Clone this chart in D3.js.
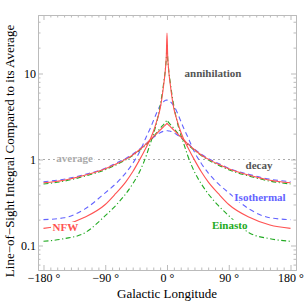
<!DOCTYPE html>
<html>
<head>
<meta charset="utf-8">
<script src="https://cdn.jsdelivr.net/npm/d3@7"></script>
<style>
  body { margin: 0; background: #fff; }
  svg { display: block; font-family: "Liberation Serif", "DejaVu Serif", serif; }
  .frame path.domain { stroke: #bbb; }
  .frame line { stroke: #bbb; }
  .frame text { fill: #000; font-size: 12px; }
</style>
</head>
<body>
<script>
var lon = [-180,-150,-120,-90,-75,-60,-50,-40,-30,-25,-20,-15,-10,-5,-2,-1,0,1,2,5,10,15,20,25,30,40,50,60,75,90,120,150,180];

// decay: line-of-sight integral / average
var decayNFW = [0.537,0.575,0.655,0.78,0.88,1.01,1.13,1.3,1.53,1.68,1.84,2.0,2.2,2.4,2.53,2.58,2.63,2.58,2.53,2.4,2.2,2.0,1.84,1.68,1.53,1.3,1.13,1.01,0.88,0.78,0.655,0.575,0.537];
var decayEin = [0.519,0.56,0.64,0.76,0.86,0.99,1.11,1.28,1.5,1.65,1.83,2.05,2.3,2.55,2.72,2.8,2.88,2.8,2.72,2.55,2.3,2.05,1.83,1.65,1.5,1.28,1.11,0.99,0.86,0.76,0.64,0.56,0.519];
var decayIso = [0.552,0.59,0.67,0.79,0.9,1.03,1.15,1.32,1.54,1.66,1.8,1.93,2.05,2.13,2.15,2.16,2.16,2.16,2.15,2.13,2.05,1.93,1.8,1.66,1.54,1.32,1.15,1.03,0.9,0.79,0.67,0.59,0.552];

// annihilation
var annNFW = [0.158,0.173,0.213,0.30,0.40,0.55,0.72,0.99,1.4,1.68,2.1,2.8,3.9,7.2,12,16,29.6,16,12,7.2,3.9,2.8,2.1,1.68,1.4,0.99,0.72,0.55,0.40,0.30,0.213,0.173,0.158];
var annEin = [0.112,0.12,0.14,0.222,0.29,0.40,0.52,0.72,1.12,1.48,1.95,2.7,4.2,7.6,12,15,22,15,12,7.6,4.2,2.7,1.95,1.48,1.12,0.72,0.52,0.40,0.29,0.222,0.14,0.12,0.112];
var annIso = [0.2,0.21,0.265,0.41,0.52,0.7,0.9,1.22,1.85,2.25,2.8,3.5,4.2,4.7,4.88,4.9,4.9,4.9,4.88,4.7,4.2,3.5,2.8,2.25,1.85,1.22,0.9,0.7,0.52,0.41,0.265,0.21,0.2];

var xTicks = [-180, -90, 0, 90, 180];
var xTickLabels = ["\u2212180 \u00b0", "\u221290 \u00b0", "0 \u00b0", "90 \u00b0", "180 \u00b0"];
var yTicks = [0.1, 1, 10];
var yTickLabels = ["0.1", "1", "10"];

var W = 304, H = 305;
var pLeft = 38, pRight = 296, pTop = 15, pBottom = 270;

var svg = d3.select("body").append("svg")
  .attr("width", W)
  .attr("height", H);

var x = d3.scaleLinear().domain([-188, 188]).range([pLeft, pRight]);
var y = d3.scaleLog().domain([0.0519, 47.9]).range([pBottom, pTop]);

// minor ticks
var xMinor = d3.range(-180, 181, 10).filter(function(d) { return d % 90 != 0; });
var yMinor = [];
[0.01, 0.1, 1, 10].forEach(function(dec) {
  for (var k = 2; k <= 9; k++) {
    var v = dec * k;
    if (v > y.domain()[0] && v < y.domain()[1]) yMinor.push(v);
  }
});

function frameAxis(axisFn, scale, pos, ticks, labels, size) {
  var a = axisFn(scale).tickValues(ticks).tickSizeInner(-size).tickSizeOuter(0);
  if (labels) a.tickFormat(function(d, i) { return labels[i]; }).tickPadding(4);
  else a.tickFormat("");
  var g = svg.append("g").attr("class", "frame").attr("transform", pos).call(a);
  g.attr("font-family", null).attr("font-size", null);
  return g;
}

// bottom / top
frameAxis(d3.axisBottom, x, "translate(0," + pBottom + ")", xMinor, null, 2.5);
var gx = frameAxis(d3.axisBottom, x, "translate(0," + pBottom + ")", xTicks, xTickLabels, 5);
gx.selectAll("text").attr("y", 3);
frameAxis(d3.axisTop, x, "translate(0," + pTop + ")", xMinor, null, 2.5);
frameAxis(d3.axisTop, x, "translate(0," + pTop + ")", xTicks, null, 5);
// left / right
frameAxis(d3.axisLeft, y, "translate(" + pLeft + ",0)", yMinor, null, 2.5);
var gy = frameAxis(d3.axisLeft, y, "translate(" + pLeft + ",0)", yTicks, yTickLabels, 5);
gy.selectAll("text").attr("x", -2);
frameAxis(d3.axisRight, y, "translate(" + pRight + ",0)", yMinor, null, 2.5);
frameAxis(d3.axisRight, y, "translate(" + pRight + ",0)", yTicks, null, 5);

// average line
svg.append("line")
  .attr("x1", pLeft).attr("x2", pRight)
  .attr("y1", y(1)).attr("y2", y(1))
  .attr("stroke", "#aaa")
  .attr("stroke-width", 1)
  .attr("stroke-dasharray", "2,3");

var line = d3.line()
  .x(function(d) { return x(d[0]); })
  .y(function(d) { return y(d[1]); })
  .curve(d3.curveMonotoneX);

var red = "#ff5252", blue = "#6464ff", green = "#22aa22";
var series = [
  { v: decayIso, color: blue, dash: "5,3.5" },
  { v: annIso, color: blue, dash: "5,3.5" },
  { v: decayEin, color: green, dash: "5,2.5,1.2,2.5" },
  { v: annEin, color: green, dash: "5,2.5,1.2,2.5" },
  { v: decayNFW, color: red, dash: null },
  { v: annNFW, color: red, dash: null }
];

svg.selectAll(".curve")
    .data(series)
  .enter().append("path")
    .attr("class", "curve")
    .attr("fill", "none")
    .attr("stroke", function(d) { return d.color; })
    .attr("stroke-width", 1.1)
    .attr("stroke-dasharray", function(d) { return d.dash; })
    .attr("d", function(d) { return line(d.v.map(function(v, i) { return [lon[i], v]; })); });

// labels (white box behind, like the plot's own labels)
function label(txt, cx, by, color, anchor) {
  var t = svg.append("text")
    .attr("x", cx).attr("y", by)
    .attr("text-anchor", anchor || "middle")
    .style("font-size", "11px")
    .style("font-weight", "bold")
    .attr("fill", color)
    .text(txt);
  var bb = t.node().getBBox();
  svg.insert("rect", function() { return t.node(); })
    .attr("x", bb.x - 1.5).attr("y", bb.y + 1)
    .attr("width", bb.width + 3).attr("height", bb.height - 2)
    .attr("fill", "#fff");
  return t;
}

label("average", 74.7, 162, "#aaa");
label("annihilation", 213, 77, "#555");
label("decay", 259, 168.5, "#555");
label("Isothermal", 260, 201, blue);
label("Einasto", 229.7, 228.7, green);
label("NFW", 52.5, 231, red, "start");

// axis titles
svg.append("text")
  .attr("transform", "translate(13.5,151) rotate(-90)")
  .attr("text-anchor", "middle")
  .style("font-size", "13px")
  .text("Line\u2212of\u2212Sight Integral Compared to its Average");

svg.append("text")
  .attr("x", 167).attr("y", 298)
  .attr("text-anchor", "middle")
  .style("font-size", "13px")
  .text("Galactic Longitude");
</script>
</body>
</html>
